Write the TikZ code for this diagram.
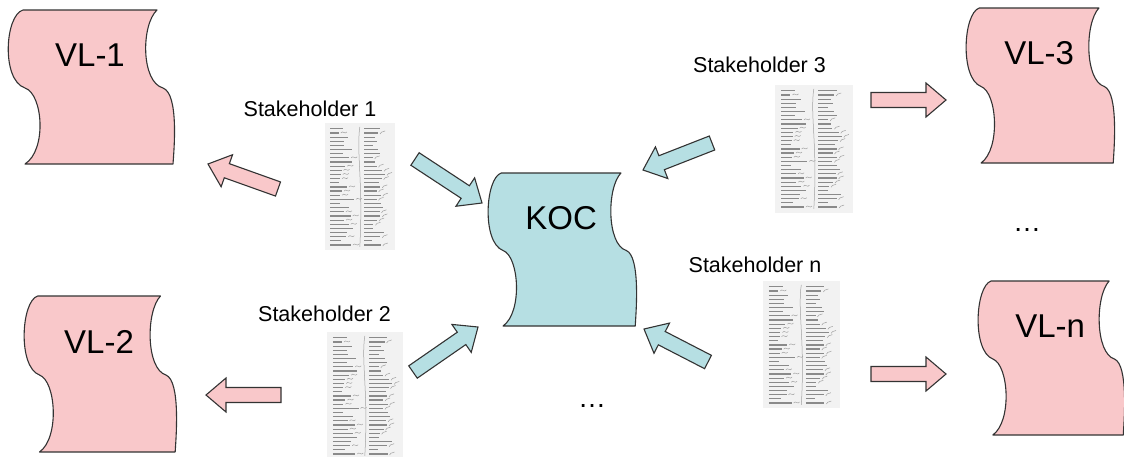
\documentclass[tikz,border=0pt]{standalone}
\usepackage{fontspec}
\setmainfont{Liberation Sans}
\usetikzlibrary{calc}

\definecolor{vlpink}{HTML}{F9C8CA}
\definecolor{kocteal}{HTML}{B6DFE3}
\definecolor{edge}{HTML}{333333}
\definecolor{ink}{HTML}{8A8A8A}
\definecolor{paper}{HTML}{F2F2F2}

\tikzset{
  docline/.style={draw=edge, line width=1.1pt, line join=round},
  doclabel/.style={font=\fontsize{33}{36}\selectfont, text=black, inner sep=0pt},
  holder/.style={font=\fontsize{21.5}{24}\selectfont, text=black, inner sep=0pt},
  dots/.style={font=\fontsize{28}{30}\selectfont, text=black, inner sep=0pt},
  blockarrow/.style={draw=edge, line width=1.1pt, line join=miter},
  sheetbox/.style={fill=paper, draw=none, inner sep=0pt},
  inkrow/.style={draw=ink, line width=1.2pt},
  scribble/.style={draw=ink!80, line width=0.5pt},
}

% wavy document: name, left, top, width, height, fill, text
\newcommand\wavedoc[7]{%
  \begin{scope}[shift={(#2,#3)}, xscale=#4/168, yscale=#5/154]
    \path[docline, fill=#6] (16,0) -- (150,0)
      .. controls (134,15) and (134,72) .. (156,78)
      .. controls (172,84) and (167,140) .. (166,154)
      -- (18,154)
      .. controls (40,140) and (36,84) .. (18,78)
      .. controls (-6,70) and (-2,5) .. (16,0) -- cycle;
    \node[doclabel] (#1) at (83,45) {#7};
  \end{scope}}

% block arrow from tail coordinate to tip coordinate
\newcommand\blockarrow[3]{%
  \coordinate (#1-base) at ($(#2)!20pt!(#1)$);
  \path[blockarrow, fill=#3]
    ($(#1)!7.5pt!90:(#2)$) -- ($(#1-base)!7.5pt!90:(#2)$)
    -- ($(#1-base)!17pt!90:(#2)$) -- (#2)
    -- ($(#1-base)!17pt!-90:(#2)$) -- ($(#1-base)!7.5pt!-90:(#2)$)
    -- ($(#1)!7.5pt!-90:(#2)$) -- cycle;}

% scanned stakeholder sheet: name, centre x, centre y, width, height
\newcommand\sheet[5]{%
  \node[sheetbox, minimum width=#4pt, minimum height=#5pt] (#1) at (#2,#3) {};
  \begin{scope}[shift={(#1.north west)}]
    \pgfmathsetseed{4242}
    \foreach \r in {0,...,28} {
      \pgfmathsetmacro\ya{6+\r*4.15}
      \pgfmathsetmacro\la{#4*(0.12+0.22*rnd)}
      \pgfmathsetmacro\lb{#4*(0.12+0.20*rnd)}
      \pgfmathsetmacro\sa{rnd}
      \draw[inkrow] (0.08*#4,\ya) -- ++(\la,0);
      \draw[inkrow] (0.56*#4,\ya) -- ++(\lb,0);
      \ifdim\sa pt>0.5pt
        \draw[scribble] (0.08*#4+\la+2,\ya) .. controls +(2,-3) and +(-2,3) .. ++(6,-1);
        \draw[scribble] (0.56*#4+\lb+2,\ya+1) .. controls +(2,-4) and +(-1,2) .. ++(5,-3);
      \fi
    }
    \draw[scribble] (0.5*#4,4) .. controls (0.45*#4,30) and (0.55*#4,60) .. (0.5*#4,124);
  \end{scope}}

\begin{document}
\begin{tikzpicture}[x=1pt, y=-1pt]
  \useasboundingbox (0,0) rectangle (1124,456);
  \clip (0,0) rectangle (1124,456);

  % stakeholder sheets and their captions
  \sheet{sheet1}{360}{186.5}{70}{127}
  \sheet{sheet2}{365}{395.5}{76}{127}
  \sheet{sheet3}{814}{149}{78}{128}
  \sheet{sheetn}{801.5}{344.5}{77}{127}
  \node[holder] (cap1) at (310,109) {Stakeholder 1};
  \node[holder] (cap2) at (324.5,314) {Stakeholder 2};
  \node[holder] (cap3) at (759.5,64.5) {Stakeholder 3};
  \node[holder] (capn) at (755,264.7) {Stakeholder n};

  % documents
  \wavedoc{vl1}{7}{10}{168}{154}{vlpink}{VL-1}
  \wavedoc{vl2}{23}{296}{154}{156}{vlpink}{VL-2}
  \wavedoc{vl3}{965}{8}{150}{155}{vlpink}{VL-3}
  \wavedoc{vln}{977}{281}{148}{154}{vlpink}{VL-n}
  \wavedoc{koc}{487}{173}{150}{153}{kocteal}{KOC}

  % arrow end points
  \coordinate (p1) at (278,189);  \coordinate (p1t) at (208,164);
  \coordinate (p2) at (281,395);  \coordinate (p2t) at (206,395);
  \coordinate (p3) at (871,100);  \coordinate (p3t) at (946,100);
  \coordinate (pn) at (871,374);  \coordinate (pnt) at (946,374);
  \coordinate (t1) at (415,159);  \coordinate (t1t) at (482,203);
  \coordinate (t2) at (413,372);  \coordinate (t2t) at (478,327);
  \coordinate (t3) at (712,143);  \coordinate (t3t) at (643,170);
  \coordinate (tn) at (708,362);  \coordinate (tnt) at (644,329);

  \blockarrow{p1}{p1t}{vlpink}
  \blockarrow{p2}{p2t}{vlpink}
  \blockarrow{p3}{p3t}{vlpink}
  \blockarrow{pn}{pnt}{vlpink}
  \blockarrow{t1}{t1t}{kocteal}
  \blockarrow{t2}{t2t}{kocteal}
  \blockarrow{t3}{t3t}{kocteal}
  \blockarrow{tn}{tnt}{kocteal}

  % continuation marks
  \node[dots] (more1) at (592,406) {…};
  \node[dots] (more2) at (1027,230) {…};
\end{tikzpicture}
\end{document}
